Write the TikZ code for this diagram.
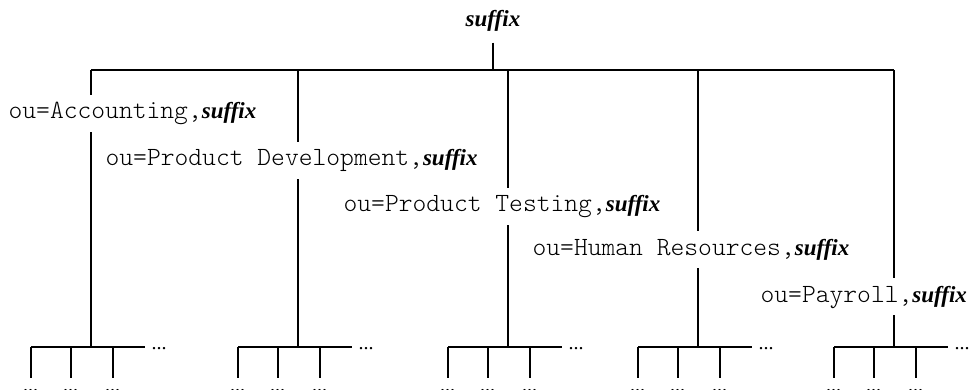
\documentclass[tikz,border=0pt]{standalone}
\usepackage{fontspec}
\setmainfont{Liberation Serif}
\setmonofont{Latin Modern Mono Light}[Scale=1.143]

\newcommand{\suffixname}{\textbf{\textit{suffix}}}

\tikzset{
	oubox/.style={fill=white,anchor=base west,inner xsep=0pt,inner ysep=7pt,text height=17pt,text depth=6pt},
	leafdots/.style={anchor=north,inner sep=0pt,text height=12.5pt,font=\fontsize{20}{24}\selectfont\itshape},
	moredots/.style={anchor=base west,inner xsep=6pt,inner ysep=0pt,font=\fontsize{20}{24}\selectfont}
}

\begin{document}
\begin{tikzpicture}[x=1pt,y=-1pt,line width=1.2pt,font=\fontsize{23}{27}\selectfont]
		\useasboundingbox (0,0) rectangle (969,390);

		% root and the top bar
		\node (root) [anchor=base,inner sep=0pt,text depth=0pt] at (493,27) {\suffixname};
		\coordinate (top) at (493,70);
		\coordinate (a) at (91,70);
		\coordinate (b) at (298,70);
		\coordinate (c) at (508,70);
		\coordinate (d) at (698,70);
		\coordinate (e) at (894,70);
		\draw [shorten <=15pt] (root.south) -- (top);
		\draw (a) -- (e);

		% the subtree heads
		\coordinate (A) at (91,347);
		\coordinate (B) at (298,347);
		\coordinate (C) at (508,347);
		\coordinate (D) at (698,347);
		\coordinate (E) at (894,347);
		\draw (a) -- (A);
		\draw (b) -- (B);
		\draw (c) -- (C);
		\draw (d) -- (D);
		\draw (e) -- (E);

		% leaves under each subtree
		\begin{scope}[every node/.style={leafdots}]
			\node (a1) at (31,378) {...};
			\node (a2) at (71,378) {...};
			\node (a3) at (113,378) {...};
			\node (b1) at (238,378) {...};
			\node (b2) at (278,378) {...};
			\node (b3) at (320,378) {...};
			\node (c1) at (448,378) {...};
			\node (c2) at (488,378) {...};
			\node (c3) at (530,378) {...};
			\node (d1) at (638,378) {...};
			\node (d2) at (678,378) {...};
			\node (d3) at (720,378) {...};
			\node (e1) at (834,378) {...};
			\node (e2) at (874,378) {...};
			\node (e3) at (916,378) {...};
		\end{scope}
		\begin{scope}[every node/.style={moredots}]
			\node (a4) at (145,349) {...};
			\node (b4) at (352,349) {...};
			\node (c4) at (562,349) {...};
			\node (d4) at (752,349) {...};
			\node (e4) at (948,349) {...};
		\end{scope}

		\draw (a1 |- A) -- (A -| a4.west);
		\draw (b1 |- B) -- (B -| b4.west);
		\draw (c1 |- C) -- (C -| c4.west);
		\draw (d1 |- D) -- (D -| d4.west);
		\draw (e1 |- E) -- (E -| e4.west);
		\draw (a1 |- A) -- (a1) (a2 |- A) -- (a2) (a3 |- A) -- (a3);
		\draw (b1 |- B) -- (b1) (b2 |- B) -- (b2) (b3 |- B) -- (b3);
		\draw (c1 |- C) -- (c1) (c2 |- C) -- (c2) (c3 |- C) -- (c3);
		\draw (d1 |- D) -- (d1) (d2 |- D) -- (d2) (d3 |- D) -- (d3);
		\draw (e1 |- E) -- (e1) (e2 |- E) -- (e2) (e3 |- E) -- (e3);

		% entry names laid over the branches
		\begin{scope}[every node/.style={oubox}]
			\node (acc) at (8,119) {\texttt{ou=Accounting,}\suffixname};
			\node (dev) at (105,166) {\texttt{ou=Product Development,}\suffixname};
			\node (test) at (343,212) {\texttt{ou=Product Testing,}\suffixname};
			\node (hr) at (532,255) {\texttt{ou=Human Resources,}\suffixname};
			\node (pay) at (760,302) {\texttt{ou=Payroll,}\suffixname};
		\end{scope}
\end{tikzpicture}
\end{document}
